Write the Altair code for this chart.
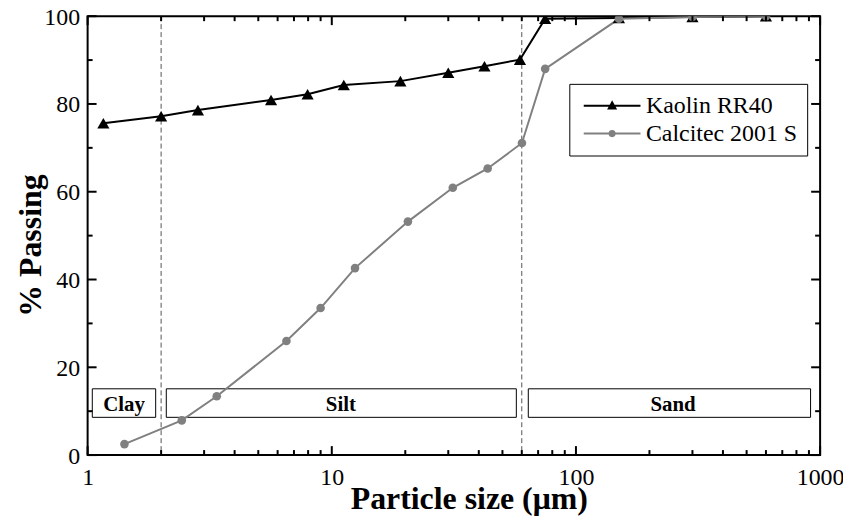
import altair as alt
import pandas as pd

# ---------------- data ----------------
kaolin_size = [1.16, 2.0, 2.83, 5.64, 7.96, 11.2, 19.1, 30.0, 42.2, 59.0, 74.8, 150, 300, 600]
kaolin_pass = [75.6, 77.2, 78.6, 80.9, 82.2, 84.3, 85.2, 87.1, 88.6, 90.1, 99.4, 99.6, 99.8, 100]

calc_size = [1.415, 2.43, 3.38, 6.52, 9.0, 12.45, 20.5, 31.3, 43.5, 60.1, 74.8, 150, 300, 600]
calc_pass = [2.5, 7.9, 13.4, 26.0, 33.5, 42.6, 53.2, 60.9, 65.3, 71.1, 88.0, 99.4, 99.8, 100]

series_names = ["Kaolin RR40", "Calcitec 2001 S"]
series_colors = ["black", "#808080"]

zone_names = ["Clay", "Silt", "Sand"]
zone_start = [1.045, 2.1, 63.8]
zone_end = [1.90, 57.0, 914.0]
zone_label_x = [1.41, 10.9, 250.0]
zone_low = [8.6, 8.6, 8.6]
zone_high = [15.1, 15.1, 15.1]
zone_label_y = [10, 10, 10]

boundaries = [2, 60]

x_ticks_major = [1, 10, 100, 1000]
x_ticks_minor = [2, 3, 4, 5, 6, 7, 8, 9, 20, 30, 40, 50, 60, 70, 80, 90,
                 200, 300, 400, 500, 600, 700, 800, 900]
y_ticks_major = [0, 20, 40, 60, 80, 100]
y_ticks_minor = [10, 30, 50, 70, 90]

# ---------------- tables ----------------
kaolin_df = pd.DataFrame({"size": kaolin_size, "passing": kaolin_pass, "series": series_names[0]})
calc_df = pd.DataFrame({"size": calc_size, "passing": calc_pass, "series": series_names[1]})
zones_df = pd.DataFrame({"name": zone_names, "x1": zone_start, "x2": zone_end,
                         "lx": zone_label_x, "y1": zone_low, "y2": zone_high, "ly": zone_label_y})
bound_df = pd.DataFrame({"b": boundaries})
xmaj_df = pd.DataFrame({"v": x_ticks_major})
xmin_df = pd.DataFrame({"v": x_ticks_minor})
ymaj_df = pd.DataFrame({"v": y_ticks_major})
ymin_df = pd.DataFrame({"v": y_ticks_minor})

FONT = "Liberation Serif"
W, H = 736, 441
MAJ, MIN = 9, 5

xs = alt.Scale(type="log", domain=[1, 1000], nice=False)
ys = alt.Scale(domain=[0, 100], nice=False, zero=False)

x_axis = alt.Axis(values=x_ticks_major, format="d", domain=False, ticks=False, tickSize=0,
                  grid=False, labelFont=FONT, labelFontSize=24, labelColor="black",
                  labelPadding=11, labelFlush=False, title="Particle size (μm)", titleFont=FONT,
                  titleFontSize=32, titleFontWeight="bold", titleColor="black",
                  titleX=383, titleY=54, titleBaseline="alphabetic")
y_axis = alt.Axis(values=y_ticks_major, domain=False, ticks=False, tickSize=0, grid=False,
                  labelFont=FONT, labelFontSize=24, labelColor="black", labelPadding=8,
                  labelFlush=False, labelBaseline="alphabetic", labelOffset=8,
                  title="% Passing", titleFont=FONT, titleFontSize=32,
                  titleFontWeight="bold", titleColor="black", titleAngle=-90,
                  titleX=-47, titleY=230, titleBaseline="alphabetic", titleAlign="center")

X = lambda f: alt.X(f, type="quantitative", scale=xs, axis=x_axis)
Y = lambda f: alt.Y(f, type="quantitative", scale=ys, axis=y_axis)

# boundary dashed lines
dashes = alt.Chart(bound_df).mark_rule(color="#555555", strokeWidth=1, strokeDash=[5, 3]).encode(
    x=X("b"))

# zone boxes and labels
boxes = alt.Chart(zones_df).mark_rect(fill="white", stroke="black", strokeWidth=1).encode(
    x=X("x1"), x2="x2", y=Y("y1"), y2="y2")
zone_text = alt.Chart(zones_df).mark_text(font=FONT, fontSize=21, fontWeight="bold",
                                          color="black", baseline="alphabetic",
                                          align="center").encode(
    x=X("lx"), y=Y("ly"), text="name:N")

# data
k_line = alt.Chart(kaolin_df).mark_line(color=series_colors[0], strokeWidth=2, clip=True).encode(
    x=X("size"), y=Y("passing"))
k_pts = alt.Chart(kaolin_df).mark_point(shape="triangle-up", filled=True, size=150, opacity=1,
                                         color=series_colors[0], clip=True).encode(
    x=X("size"), y=Y("passing"))
c_line = alt.Chart(calc_df).mark_line(color=series_colors[1], strokeWidth=2, clip=True).encode(
    x=X("size"), y=Y("passing"))
c_pts = alt.Chart(calc_df).mark_point(shape="circle", filled=True, size=75, opacity=1,
                                       color=series_colors[1], clip=True).encode(
    x=X("size"), y=Y("passing"))

# ticks (inward)
tick_style = dict(color="black", strokeWidth=2)
t_left_maj = alt.Chart(ymaj_df).mark_rule(**tick_style).encode(y=Y("v"), x=alt.value(0), x2=alt.value(MAJ))
t_left_min = alt.Chart(ymin_df).mark_rule(**tick_style).encode(y=Y("v"), x=alt.value(0), x2=alt.value(MIN))
t_right_maj = alt.Chart(ymaj_df).mark_rule(**tick_style).encode(y=Y("v"), x=alt.value(W - MAJ), x2=alt.value(W))
t_right_min = alt.Chart(ymin_df).mark_rule(**tick_style).encode(y=Y("v"), x=alt.value(W - MIN), x2=alt.value(W))
t_bot_maj = alt.Chart(xmaj_df).mark_rule(**tick_style).encode(x=X("v"), y=alt.value(H - MAJ), y2=alt.value(H))
t_bot_min = alt.Chart(xmin_df).mark_rule(**tick_style).encode(x=X("v"), y=alt.value(H - MIN), y2=alt.value(H))
t_top_maj = alt.Chart(xmaj_df).mark_rule(**tick_style).encode(x=X("v"), y=alt.value(0), y2=alt.value(MAJ))
t_top_min = alt.Chart(xmin_df).mark_rule(**tick_style).encode(x=X("v"), y=alt.value(0), y2=alt.value(MIN))

# legend (built from an empty layer whose symbols are line + marker paths)
# symbol box is 15px; paths reach beyond it to draw a 57px line
LINE_TRI = "M-3.8,0L3.8,0M0,-0.45L-0.45,0.38L0.45,0.38Z"
LINE_CIRC = "M-3.8,0L3.8,0M0.34,0A0.34,0.34,0,1,1,-0.34,0A0.34,0.34,0,1,1,0.34,0Z"
leg = alt.Legend(title=None, orient="none", legendX=484, legendY=68, direction="vertical",
                 labelFont=FONT, labelFontSize=24, labelColor="black", labelOffset=22,
                 symbolOffset=21, symbolSize=225, symbolStrokeWidth=2, symbolOpacity=1,
                 strokeColor="black", fillColor="white", padding=10, rowPadding=4)
legend_layer = alt.Chart(pd.concat([kaolin_df, calc_df])).transform_filter("false").mark_point(
    filled=True, opacity=1, size=225, strokeWidth=2).encode(
    x=X("size"), y=Y("passing"),
    shape=alt.Shape("series:N", scale=alt.Scale(domain=series_names, range=[LINE_TRI, LINE_CIRC]), legend=leg),
    fill=alt.Fill("series:N", scale=alt.Scale(domain=series_names, range=series_colors), legend=leg),
    stroke=alt.Stroke("series:N", scale=alt.Scale(domain=series_names, range=series_colors), legend=leg),
)

chart = alt.layer(
    dashes, boxes, zone_text, k_line, c_line, k_pts, c_pts,
    t_left_maj, t_left_min, t_right_maj, t_right_min,
    t_bot_maj, t_bot_min, t_top_maj, t_top_min, legend_layer
).properties(
    width=W, height=H,
    padding={"left": 80, "top": 7, "right": 23, "bottom": 60},
    autosize=alt.AutoSizeParams(type="none"),
).configure_view(stroke="black", strokeWidth=2)

chart.save("out.html", embed_options={"renderer": "svg", "actions": False})
